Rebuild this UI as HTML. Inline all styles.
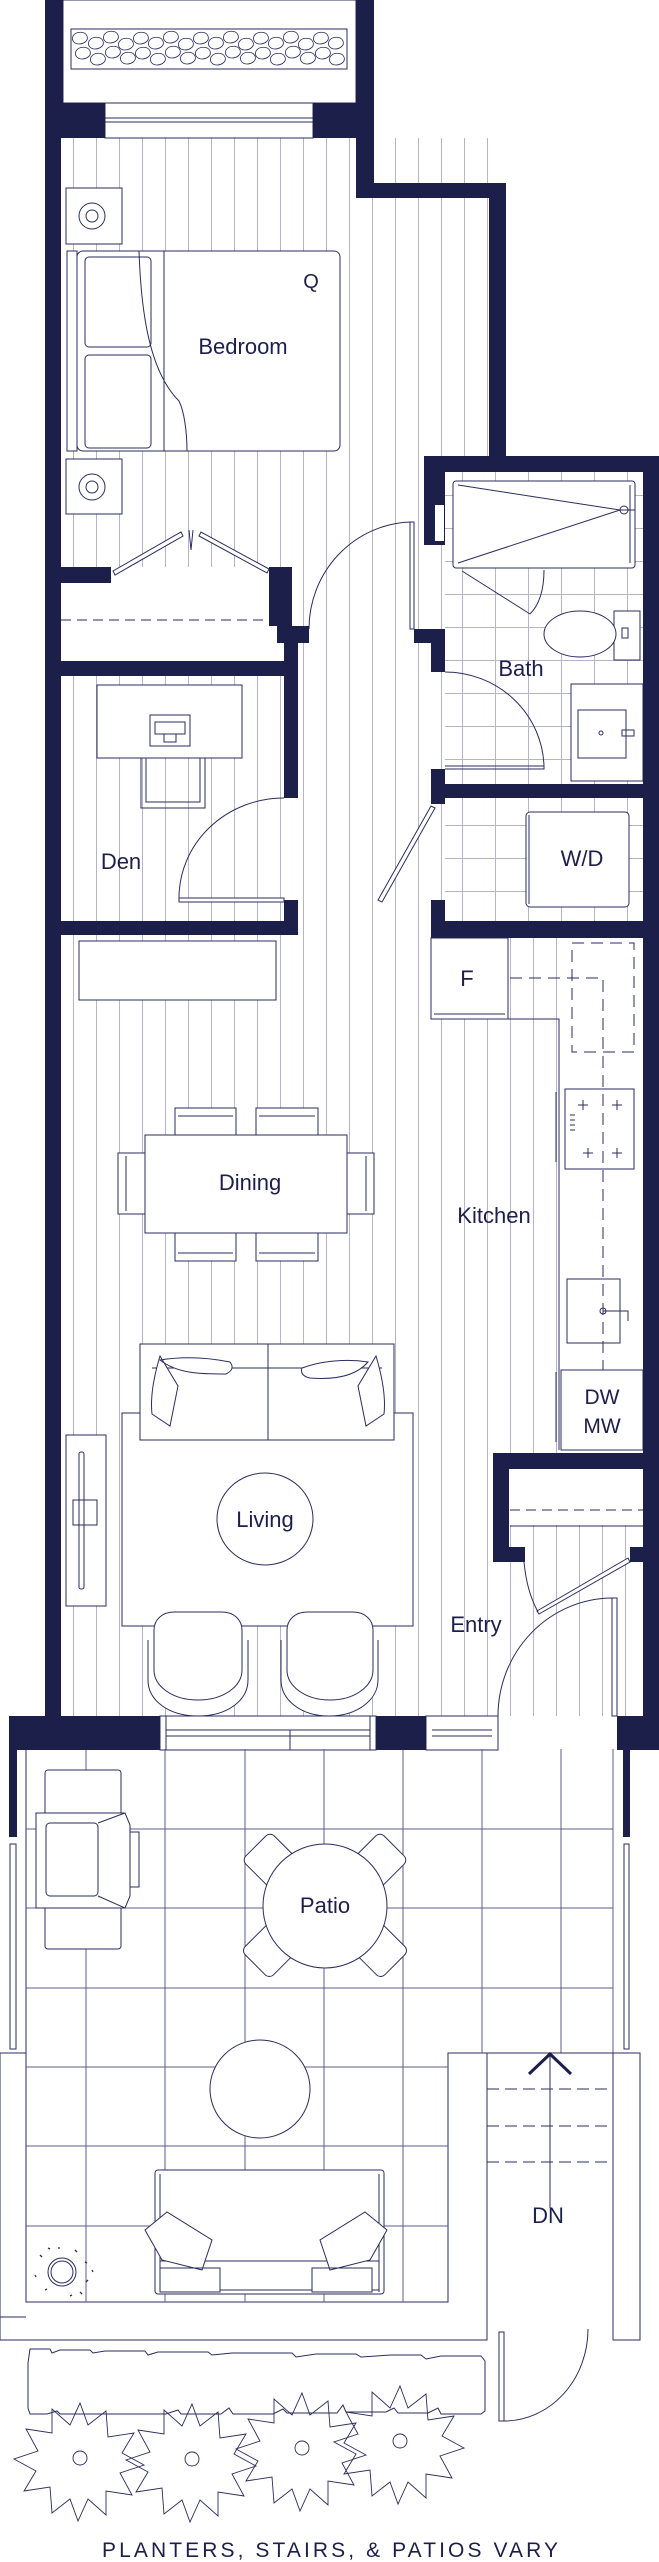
<!DOCTYPE html>
<html><head><meta charset="utf-8"><style>
html,body{margin:0;padding:0;background:#fff}
svg{display:block}
text{font-family:"Liberation Sans",sans-serif;fill:#1c1f4a}
</style></head><body>
<svg width="659" height="2562" viewBox="0 0 659 2562" xmlns="http://www.w3.org/2000/svg">
<defs>
<pattern id="pl" x="4" y="0" width="23" height="10" patternUnits="userSpaceOnUse"><rect width="23" height="10" fill="#fff"/><line x1="0.5" y1="0" x2="0.5" y2="10" stroke="#b4b5cb" stroke-width="1"/></pattern>
<pattern id="tl" x="0" y="0" width="33" height="33" patternUnits="userSpaceOnUse"><rect width="33" height="33" fill="#fff"/><path d="M0.5 0V33M0 0.5H33" stroke="#b4b5cb" stroke-width="1"/></pattern>
<path id="cb" d="M0 5c3-5 12-5 14 0s-4 8-8 8-8-3-6-8z"/>
</defs>
<g fill="none" stroke="#2a2d5c" stroke-width="1">
<rect x="61" y="101" width="295" height="466" fill="url(#pl)" stroke="none"/>
<rect x="298" y="138" width="191" height="1578" fill="url(#pl)" stroke="none"/>
<rect x="61" y="676" width="225" height="245" fill="url(#pl)" stroke="none"/>
<rect x="61" y="935" width="380" height="781" fill="url(#pl)" stroke="none"/>
<rect x="441" y="938" width="120" height="778" fill="url(#pl)" stroke="none"/>
<rect x="494" y="1469" width="149" height="247" fill="url(#pl)" stroke="none"/>
<rect x="445" y="472" width="198" height="312" fill="url(#tl)" stroke="none"/>
<rect x="445" y="798" width="198" height="123" fill="url(#tl)" stroke="none"/>
<rect x="561" y="938" width="82" height="515" fill="#fff" stroke="none"/>
<rect x="61" y="583" width="208" height="78" fill="#fff" stroke="none"/>
<rect x="510" y="1469" width="133" height="56" fill="#fff" stroke="none"/>
<line x1="510" y1="1510" x2="643" y2="1510" stroke-dasharray="10 6"/>
<line x1="510" y1="1526" x2="643" y2="1526"/>
<line x1="61" y1="620" x2="269" y2="620" stroke-dasharray="10 6"/>
<rect x="63" y="0" width="293" height="103" fill="#fff"/>
<rect x="71" y="29" width="276" height="40" fill="#fff"/>
<g stroke-width="0.8">
<use href="#cb" x="73" y="31"/><use href="#cb" x="89" y="36"/><use href="#cb" x="104" y="30"/><use href="#cb" x="119" y="37"/><use href="#cb" x="134" y="31"/><use href="#cb" x="149" y="36"/><use href="#cb" x="164" y="30"/><use href="#cb" x="179" y="37"/><use href="#cb" x="194" y="31"/><use href="#cb" x="209" y="36"/><use href="#cb" x="224" y="30"/><use href="#cb" x="239" y="37"/><use href="#cb" x="254" y="31"/><use href="#cb" x="269" y="36"/><use href="#cb" x="284" y="30"/><use href="#cb" x="299" y="37"/><use href="#cb" x="314" y="31"/><use href="#cb" x="329" y="36"/>
<use href="#cb" x="76" y="46"/><use href="#cb" x="91" y="52"/><use href="#cb" x="106" y="45"/><use href="#cb" x="121" y="51"/><use href="#cb" x="136" y="46"/><use href="#cb" x="151" y="52"/><use href="#cb" x="166" y="45"/><use href="#cb" x="181" y="51"/><use href="#cb" x="196" y="46"/><use href="#cb" x="211" y="52"/><use href="#cb" x="226" y="45"/><use href="#cb" x="241" y="51"/><use href="#cb" x="256" y="46"/><use href="#cb" x="271" y="52"/><use href="#cb" x="286" y="45"/><use href="#cb" x="301" y="51"/><use href="#cb" x="316" y="46"/><use href="#cb" x="330" y="52"/>
</g>
<rect x="105" y="103" width="208" height="35" fill="#fff"/>
<line x1="105" y1="118" x2="313" y2="118"/><line x1="105" y1="122" x2="313" y2="122"/>
<rect x="66" y="188" width="56" height="56" fill="#fff"/><circle cx="92" cy="216" r="13"/><circle cx="92" cy="216" r="6"/>
<rect x="66" y="459" width="56" height="55" fill="#fff"/><circle cx="92" cy="487" r="13"/><circle cx="92" cy="487" r="6"/>
<rect x="77" y="251" width="263" height="200" rx="6" fill="#fff"/>
<rect x="67" y="251" width="10" height="200" fill="#fff"/>
<rect x="85" y="257" width="66" height="90" rx="4"/><rect x="85" y="355" width="66" height="93" rx="4"/>
<path d="M139 251c10 0 20 0 25 0v200M139 251c2 60 10 120 40 150c5 10 8 30 8 50"/>
<text x="311" y="288" font-size="20" stroke="none" text-anchor="middle">Q</text>
<text x="243" y="354" font-size="22" stroke="none" text-anchor="middle">Bedroom</text>
<path d="M113 571L181 532L183 536L115 575ZM269 569L201 532L199 536L267 573Z" fill="#fff"/>
<path d="M189 530l2 20M193 530l-2 20"/>
<rect x="410" y="522" width="4" height="107" fill="#fff"/>
<path d="M410 522A105 107 0 0 0 309 629"/>
<rect x="453" y="481" width="182" height="87" rx="3" fill="#fff"/>
<path d="M458 485L620 510L458 563M630 485V563M620 510h15"/><circle cx="624" cy="510" r="4"/>
<path d="M462 571L530 614M544 570c0 20-5 35-14 44"/>
<rect x="614" y="611" width="26" height="49" fill="#fff"/><ellipse cx="580" cy="634" rx="36" ry="23" fill="#fff"/>
<rect x="622" y="628" width="6" height="10"/>
<rect x="571" y="684" width="72" height="97" fill="#fff"/><rect x="578" y="710" width="48" height="48"/><circle cx="601" cy="733" r="2"/><path d="M622 730h12v6h-12z"/>
<path d="M445 769H544v-3H445M445 672A99 97 0 0 1 544 766"/>
<text x="521" y="676" font-size="22" stroke="none" text-anchor="middle">Bath</text>
<rect x="526" y="812" width="103" height="95" rx="4" fill="#fff"/><path d="M529 815v89"/>
<text x="582" y="866" font-size="22" stroke="none" text-anchor="middle">W/D</text>
<path d="M431 806L378 900L382 902L435 808Z" fill="#fff"/>
<rect x="97" y="685" width="145" height="73" fill="#fff"/><rect x="150" y="715" width="40" height="31"/><rect x="155" y="722" width="30" height="12"/><rect x="164" y="734" width="12" height="8"/>
<path d="M141 758v50h64v-50M146 758v44h54v-44"/>
<rect x="179" y="898" width="105" height="4" fill="#fff"/>
<path d="M179 898A105 100 0 0 1 284 798"/>
<text x="121" y="869" font-size="22" stroke="none" text-anchor="middle">Den</text>
<rect x="431" y="938" width="77" height="81" fill="#fff"/><line x1="434" y1="1014" x2="505" y2="1014"/>
<text x="467" y="986" font-size="22" stroke="none" text-anchor="middle">F</text>
<path d="M510 978H603V1370" stroke-dasharray="12 7"/>
<rect x="572" y="943" width="62" height="109" stroke-dasharray="12 7"/>
<path d="M508 1019H559V1450M556 1092v70M556 1372v70"/>
<rect x="565" y="1089" width="69" height="80"/>
<path d="M578 1105h10M583 1100v10M612 1105h10M617 1100v10M583 1153h10M588 1148v10M612 1153h10M617 1148v10"/>
<path d="M570 1115h5M570 1120h5M570 1125h5M570 1130h5"/>
<rect x="567" y="1279" width="53" height="64"/><circle cx="603" cy="1311" r="3"/><path d="M603 1311h25v10"/>
<rect x="561" y="1370" width="82" height="80" fill="#fff"/>
<text x="602" y="1404" font-size="21" stroke="none" text-anchor="middle">DW</text>
<text x="602" y="1433" font-size="21" stroke="none" text-anchor="middle">MW</text>
<text x="494" y="1223" font-size="22" stroke="none" text-anchor="middle">Kitchen</text>
<path d="M628 1558L537 1611L539 1614L630 1562Z" fill="#fff"/>
<path d="M524 1562c2 20 6 35 14 50"/>
<rect x="612" y="1598" width="5" height="118" fill="#fff"/>
<path d="M612 1598A115 118 0 0 0 498 1716"/>
<text x="476" y="1632" font-size="22" stroke="none" text-anchor="middle">Entry</text>
<rect x="79" y="941" width="197" height="59" fill="#fff"/>
<rect x="175" y="1108" width="61" height="27" fill="#fff"/><line x1="178" y1="1116" x2="233" y2="1116"/>
<rect x="256" y="1108" width="62" height="27" fill="#fff"/><line x1="259" y1="1116" x2="315" y2="1116"/>
<rect x="175" y="1233" width="61" height="28" fill="#fff"/><line x1="178" y1="1253" x2="233" y2="1253"/>
<rect x="256" y="1233" width="62" height="28" fill="#fff"/><line x1="259" y1="1253" x2="315" y2="1253"/>
<rect x="118" y="1153" width="27" height="61" fill="#fff"/><line x1="126" y1="1156" x2="126" y2="1211"/>
<rect x="347" y="1153" width="27" height="61" fill="#fff"/><line x1="366" y1="1156" x2="366" y2="1211"/>
<rect x="145" y="1135" width="202" height="98" fill="#fff"/>
<text x="250" y="1190" font-size="22" stroke="none" text-anchor="middle">Dining</text>
<rect x="122" y="1413" width="291" height="213" fill="#fff"/>
<rect x="140" y="1344" width="254" height="96" fill="#fff"/><line x1="268" y1="1344" x2="268" y2="1440"/><line x1="152" y1="1368" x2="382" y2="1368"/>
<path d="M160 1356c-6 20-10 40-8 58l18 12 8-40zM160 1360c25-4 50-2 70 2 4 5 2 9-4 12-25 0-48 0-66-14zM376 1356c6 20 10 40 8 58l-18 12-8-40zM368 1362c-25-4-50 0-66 6-2 5 2 9 8 10 25 2 46-2 58-16z" fill="#fff"/>
<ellipse cx="265" cy="1519" rx="48" ry="46" fill="#fff"/>
<text x="265" y="1527" font-size="22" stroke="none" text-anchor="middle">Living</text>
<rect x="66" y="1435" width="40" height="171" fill="#fff"/><rect x="79" y="1452" width="5" height="137" rx="2"/><rect x="73" y="1500" width="24" height="25"/>
<path d="M148 1640v40c0 20 20 36 50 36s50-16 50-36v-40" fill="#fff"/><path d="M154 1630c0-10 8-18 20-18h48c12 0 20 8 20 18v40c0 16-18 30-44 30s-44-14-44-30z" fill="#fff"/>
<path d="M281 1640v40c0 20 20 36 48 36s49-16 49-36v-40" fill="#fff"/><path d="M287 1630c0-10 8-18 20-18h46c12 0 20 8 20 18v40c0 16-18 30-43 30s-43-14-43-30z" fill="#fff"/>
<rect x="160" y="1716" width="216" height="34" fill="#fff"/><path d="M166 1716v34M370 1716v34M166 1730h204M166 1736h204M290 1730v20"/>
<rect x="426" y="1716" width="72" height="34" fill="#fff"/><path d="M432 1730h60M432 1736h60"/>
<path d="M26 1749V2302H448V2053H487"/>
<path d="M86 1749V2302M165 1749V2302M245 1749V2302M324 1749V2302M403 1749V2302M482 1749V2053M561 1749V2053M613 1749V2053M26 1829H613M26 1908H613M26 1988H613M26 2067H448M26 2146H448M26 2226H448" stroke="#5c5e88"/>
<path d="M26 2053H0V2317H26M0 2317V2340H487V2053M487 2053H613V2340H640V2053H613"/>
<rect x="10" y="1844" width="6" height="205"/><rect x="624" y="1844" width="5" height="205"/>
<path d="M487 2089H613M487 2126H613M487 2162H613" stroke-dasharray="12 6"/>
<line x1="550" y1="2055" x2="550" y2="2208"/>
<path d="M529 2074L550 2054L571 2074" stroke="#1c1f4a" stroke-width="3"/>
<text x="548" y="2223" font-size="22" stroke="none" text-anchor="middle">DN</text>
<rect x="499" y="2332" width="5" height="89" fill="#fff"/>
<path d="M504 2421A84 92 0 0 0 588 2329"/>
<rect x="45" y="1770" width="76" height="179" rx="3" fill="#fff"/>
<path d="M36 1813H125L130 1825V1896L125 1908H36Z" fill="#fff"/><rect x="46" y="1823" width="52" height="73" rx="4"/>
<path d="M98 1823L125 1813M98 1896L125 1908M130 1832h9v55h-9"/>
<g fill="#fff">
<rect x="255" y="1838" width="40" height="55" rx="6" transform="rotate(-45 275 1865)"/>
<rect x="355" y="1838" width="40" height="55" rx="6" transform="rotate(45 375 1865)"/>
<rect x="255" y="1918" width="40" height="55" rx="6" transform="rotate(45 275 1945)"/>
<rect x="355" y="1918" width="40" height="55" rx="6" transform="rotate(-45 375 1945)"/>
<circle cx="325" cy="1906" r="62"/>
</g>
<text x="325" y="1913" font-size="22" stroke="none" text-anchor="middle">Patio</text>
<ellipse cx="260" cy="2089" rx="50" ry="49" fill="#fff"/>
<rect x="155" y="2170" width="229" height="124" rx="3" fill="#fff"/><path d="M160 2174v118M379 2174v118M160 2261H379M160 2290H379"/>
<path d="M145 2230l22-18 45 28-10 30-40-10zM387 2230l-22-18-45 28 10 30 40-10zM160 2268h60v24h-60zM312 2268h60v24h-60z" fill="#fff"/>
<circle cx="62" cy="2272" r="14"/><circle cx="62" cy="2272" r="11"/>
<path d="M40 2255l2 2M48 2248l2 1M75 2250l2 2M85 2262l2 1M88 2280l-2 2M80 2292l2 2M45 2290l2-1M35 2275l1 2M58 2248l2 0M70 2296l2-1M92 2270l1 2" stroke-width="1.3"/>
<path d="M30 2349h20l2 4 8-3h30l3 3 12-2h40l3 4 10-3h50l4 3 20-2h60l4 4 20-3h40l5 3 30-2h30l5 4 15-3h40l4 5v50l-4 3h-40l-3-6-10 5h-30l-4-5-8 4h-40l-3-7-6 8h-50l-4-4-10 5h-40l-4-6-8 6h-40l-3-4-12 4H60l-3-3-10 3H30l-2-6v-45z"/>
<g stroke-width="0.9">
<path d="M80 2403l8 22 18-14 2 26 26-4-12 20 22 12-24 8 12 22-26-4 0 24-18-16-10 22-8-22-18 14-2-26-26 4 12-20-22-12 24-8-12-22 26 4 0-24 18 16z"/><circle cx="80" cy="2458" r="7"/>
<path d="M192 2404l8 22 18-14 2 26 26-4-12 20 22 12-24 8 12 22-26-4 0 24-18-16-10 22-8-22-18 14-2-26-26 4 12-20-22-12 24-8-12-22 26 4 0-24 18 16z"/><circle cx="192" cy="2459" r="7"/>
<path d="M302 2393l8 22 18-14 2 26 26-4-12 20 22 12-24 8 12 22-26-4 0 24-18-16-10 22-8-22-18 14-2-26-26 4 12-20-22-12 24-8-12-22 26 4 0-24 18 16z"/><circle cx="302" cy="2448" r="7"/>
<path d="M400 2386l8 22 18-14 2 26 26-4-12 20 22 12-24 8 12 22-26-4 0 24-18-16-10 22-8-22-18 14-2-26-26 4 12-20-22-12 24-8-12-22 26 4 0-24 18 16z"/><circle cx="400" cy="2441" r="7"/>
</g>
</g>
<g fill="#1c1f4a">
<rect x="45" y="0" width="18" height="103"/><rect x="45" y="103" width="16" height="1613"/>
<rect x="356" y="0" width="18" height="198"/>
<rect x="45" y="103" width="60" height="35"/><rect x="313" y="103" width="61" height="35"/>
<rect x="356" y="183" width="150" height="15"/><rect x="489" y="183" width="17" height="289"/>
<rect x="424" y="456" width="235" height="16"/><rect x="643" y="456" width="16" height="1294"/>
<rect x="424" y="456" width="21" height="89"/><rect x="431" y="629" width="14" height="43"/><rect x="414" y="629" width="31" height="14"/>
<rect x="45" y="567" width="66" height="16"/><rect x="269" y="567" width="23" height="59"/><rect x="277" y="626" width="32" height="17"/><rect x="284" y="643" width="14" height="33"/>
<rect x="45" y="661" width="253" height="15"/><rect x="284" y="661" width="14" height="137"/>
<rect x="45" y="921" width="253" height="14"/><rect x="284" y="900" width="14" height="35"/>
<rect x="431" y="784" width="228" height="14"/><rect x="431" y="769" width="14" height="35"/>
<rect x="431" y="921" width="228" height="17"/><rect x="431" y="900" width="14" height="38"/>
<rect x="493" y="1453" width="166" height="16"/><rect x="493" y="1453" width="16" height="109"/><rect x="493" y="1547" width="32" height="15"/><rect x="630" y="1547" width="29" height="15"/>
<rect x="9" y="1716" width="151" height="34"/><rect x="376" y="1716" width="50" height="34"/><rect x="617" y="1716" width="42" height="34"/>
<rect x="9" y="1749" width="8" height="88"/><rect x="623" y="1749" width="7" height="88"/>
</g>
<rect x="435" y="505" width="9" height="36" fill="#fff"/>
<text x="330" y="2557" font-size="21" textLength="456" lengthAdjust="spacing" text-anchor="middle">PLANTERS, STAIRS, &amp; PATIOS VARY</text>
</svg>
</body></html>
